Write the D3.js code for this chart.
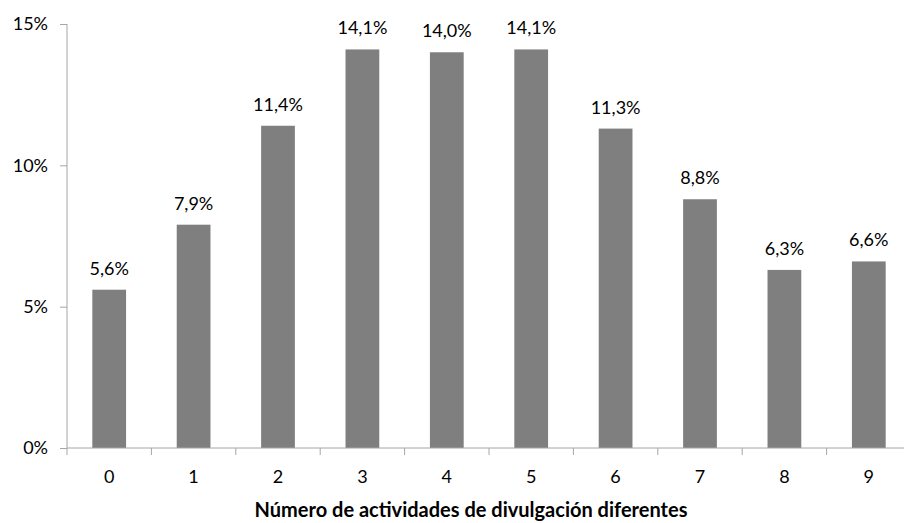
<!DOCTYPE html>
<html>

<head>
  <title>Actividades de divulgación</title>
  <meta charset="utf-8">
  <script src="https://d3js.org/d3.v7.min.js"></script>
  <style>
    body { margin: 0; background: #fff; }
    svg text { font-family: Lato, "Open Sans", sans-serif; fill: #000; }
    .axis path, .axis line { stroke: #a6a6a6; }
  </style>
</head>

<body>
  <svg id="chart" width="904" height="523"></svg>
  <script>
    var categories = ["0", "1", "2", "3", "4", "5", "6", "7", "8", "9"];
    var shares = [5.6, 7.9, 11.4, 14.1, 14.0, 14.1, 11.3, 8.8, 6.3, 6.6];
    var yTicks = [0, 5, 10, 15];
    var xTitle = "Número de actividades de divulgación diferentes";

    var svg = d3.select("#chart");
    var plotLeft = 67, plotRight = 911, plotTop = 24, plotBottom = 448;

    var x = d3.scaleBand().domain(categories).range([plotLeft, plotRight])
      .paddingInner(0.6).paddingOuter(0.3);
    var y = d3.scaleLinear().domain([0, 15]).range([plotBottom, plotTop]);

    // bars
    svg.append("g").selectAll("rect")
      .data(shares)
      .join("rect")
      .attr("x", (d, i) => x(categories[i]))
      .attr("y", d => y(d))
      .attr("width", x.bandwidth())
      .attr("height", d => plotBottom - y(d))
      .attr("fill", "#7f7f7f");

    // value labels
    svg.append("g").selectAll("text")
      .data(shares)
      .join("text")
      .attr("x", (d, i) => x(categories[i]) + x.bandwidth() / 2)
      .attr("y", d => y(d) - 15)
      .attr("text-anchor", "middle")
      .style("font-size", "18px")
      .text(d => d.toFixed(1).replace(".", ",") + "%");

    // y axis
    var yAxis = svg.append("g").attr("class", "axis")
      .attr("transform", "translate(" + plotLeft + ",0)")
      .call(d3.axisLeft(y).tickValues(yTicks).tickSize(7).tickSizeOuter(0)
        .tickPadding(12).tickFormat(d => d + "%"));
    yAxis.select(".domain").attr("d", "M0," + plotBottom + "V" + plotTop);
    yAxis.selectAll("text").style("font-size", "18px");

    // x axis: ticks sit between the categories
    var xAxis = svg.append("g").attr("class", "axis")
      .attr("transform", "translate(0," + plotBottom + ")");
    xAxis.append("line").attr("x1", plotLeft).attr("x2", plotRight).attr("y1", 0).attr("y2", 0);
    var bounds = d3.range(categories.length + 1).map(i => plotLeft + i * x.step());
    xAxis.selectAll("line.tk").data(bounds).join("line").attr("class", "tk")
      .attr("x1", d => d).attr("x2", d => d).attr("y1", 0).attr("y2", 7);
    xAxis.selectAll("text").data(categories).join("text")
      .attr("x", d => x(d) + x.bandwidth() / 2)
      .attr("y", 35)
      .attr("text-anchor", "middle")
      .style("font-size", "18px")
      .text(d => d);

    svg.append("text")
      .attr("x", 471).attr("y", 517)
      .attr("text-anchor", "middle")
      .style("font-size", "20px").style("font-weight", "bold")
      .text(xTitle);
  </script>
</body>

</html>
